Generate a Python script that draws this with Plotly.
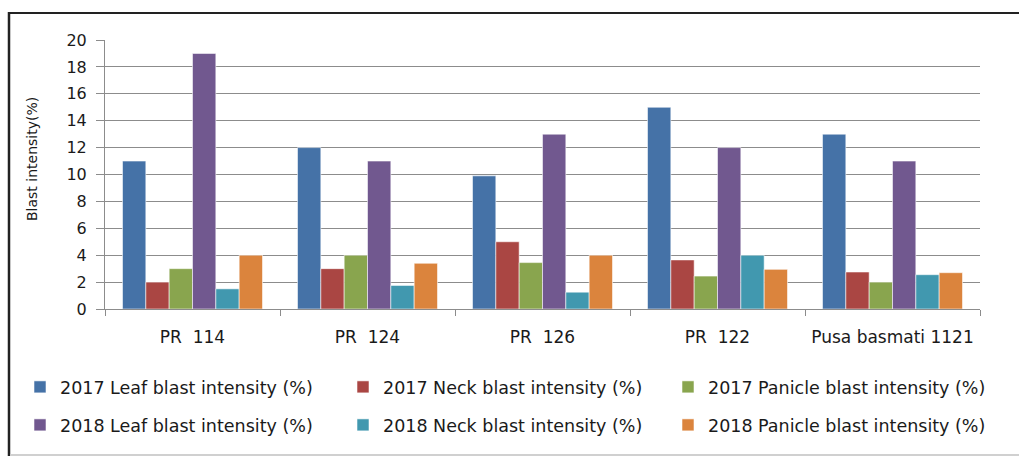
import plotly.graph_objects as go

varieties = ["PR  114", "PR  124", "PR  126", "PR  122", "Pusa basmati 1121"]

leaf_2017 = [11, 12, 9.9, 15, 13]
neck_2017 = [2, 3, 5, 3.65, 2.75]
panicle_2017 = [3, 4, 3.45, 2.45, 2]
leaf_2018 = [19, 11, 13, 12, 11]
neck_2018 = [1.5, 1.75, 1.25, 4, 2.55]
panicle_2018 = [4, 3.4, 4, 2.95, 2.7]

series_names = [
    "2017 Leaf blast intensity (%)",
    "2017 Neck blast intensity (%)",
    "2017 Panicle blast intensity (%)",
    "2018 Leaf blast intensity (%)",
    "2018 Neck blast intensity (%)",
    "2018 Panicle blast intensity (%)",
]
series_values = [leaf_2017, neck_2017, panicle_2017, leaf_2018, neck_2018, panicle_2018]
series_colors = ["#4572A7", "#AA4643", "#89A54E", "#71588F", "#4198AF", "#DB843D"]

W, H = 1019, 459
L, R, T, B = 105, 39, 40, 150
PW, PH = W - L - R, H - T - B


def px_x(x):
    return (x - L) / PW


def px_y(y):
    return (H - B - y) / PH


# one single-entry legend per series, laid out as a 3 x 2 grid
legend_cols = [20, 343, 668]
legend_rows = [387, 425]

fig = go.Figure()
legend_layouts = {}
text_font = dict(family="DejaVu Sans", size=17, color="#1a1a1a")
for i, (name, vals, color) in enumerate(zip(series_names, series_values, series_colors)):
    key = "legend" if i == 0 else f"legend{i + 1}"
    fig.add_trace(go.Bar(
        x=varieties, y=vals, name=name, legend=key, showlegend=True,
        marker=dict(color=color, line=dict(color="rgba(255,255,255,0.55)", width=1)),
    ))
    legend_layouts[key] = dict(
        orientation="h", xanchor="left", yanchor="middle",
        x=px_x(legend_cols[i % 3]), y=px_y(legend_rows[i // 3]),
        font=dict(family="DejaVu Sans", size=17.5, color="#1a1a1a"),
        bgcolor="rgba(0,0,0,0)", itemwidth=30, visible=True,
    )

fig.update_layout(
    width=W, height=H,
    showlegend=True,
    margin=dict(l=L, r=R, t=T, b=B, autoexpand=False),
    paper_bgcolor="white", plot_bgcolor="white",
    barmode="group", bargap=0.2, bargroupgap=0,
    font=text_font,
    xaxis=dict(
        showgrid=False, showline=True, linecolor="#8c8c8c", linewidth=1,
        ticks="outside", tickson="boundaries", ticklen=6, tickcolor="#8c8c8c",
        tickfont=text_font, ticklabelstandoff=13,
    ),
    yaxis=dict(
        range=[0, 20], dtick=2, showgrid=True, gridcolor="#8c8c8c", gridwidth=1,
        showline=True, linecolor="#8c8c8c", linewidth=1,
        ticks="outside", ticklen=8, tickcolor="#8c8c8c",
        tickfont=dict(family="DejaVu Sans", size=16, color="#1a1a1a"),
        ticklabelstandoff=6, zeroline=False,
    ),
    annotations=[dict(
        text="Blast intensity(%)", textangle=-90, xref="paper", yref="paper",
        x=px_x(32), y=px_y(159), xanchor="center", yanchor="middle",
        showarrow=False, font=dict(family="DejaVu Sans", size=14, color="#1a1a1a"),
    )],
    shapes=[
        dict(type="line", xref="paper", yref="paper", x0=px_x(8), x1=px_x(1019),
             y0=px_y(13), y1=px_y(13), line=dict(color="#222222", width=2)),
        dict(type="line", xref="paper", yref="paper", x0=px_x(9), x1=px_x(9),
             y0=px_y(12), y1=px_y(456), line=dict(color="#222222", width=2.5)),
        dict(type="line", xref="paper", yref="paper", x0=px_x(10), x1=px_x(1019),
             y0=px_y(455), y1=px_y(455), line=dict(color="#d0d0d0", width=2)),
    ],
)
fig.update_layout(**legend_layouts)

fig.write_html("out.html")
